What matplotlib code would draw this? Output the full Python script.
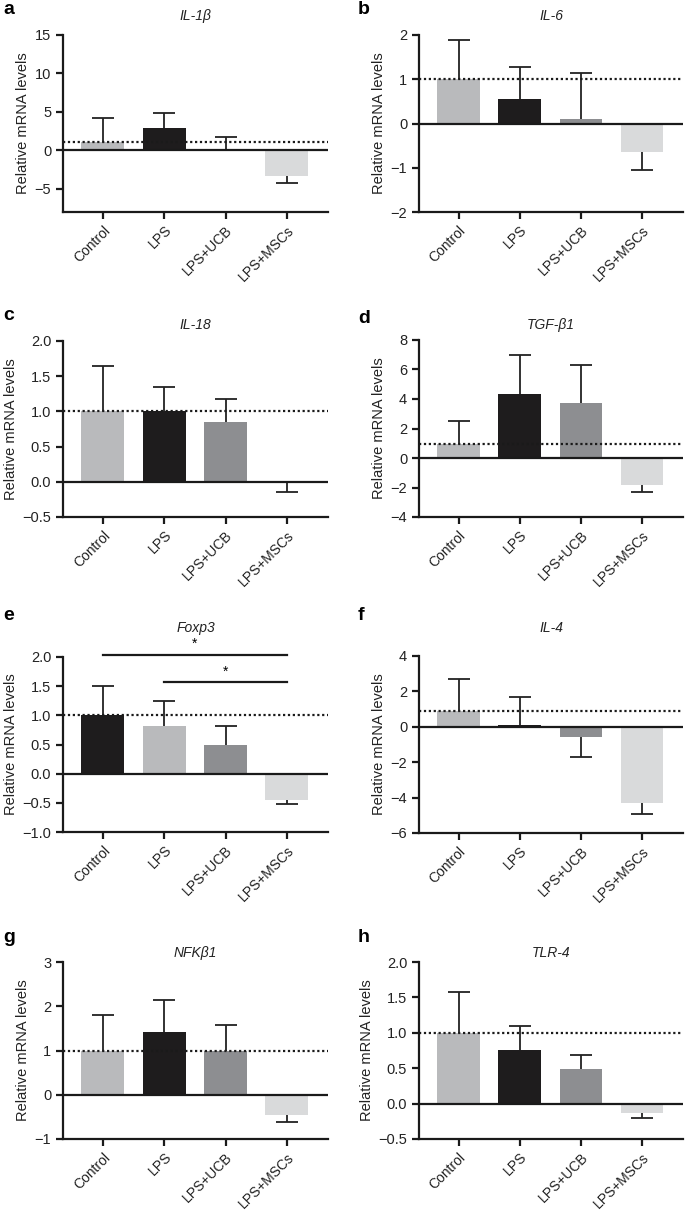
import numpy as np
import matplotlib
matplotlib.use('Agg')
import matplotlib.pyplot as plt

plt.rcParams['font.family'] = ['Liberation Sans', 'DejaVu Sans']

#### Data ####
groups = ['Control', 'LPS', 'LPS+UCB', 'LPS+MSCs']
genes = ['IL-1β', 'IL-6', 'IL-18', 'TGF-β1', 'Foxp3', 'IL-4', 'NFKβ1', 'TLR-4']
letters = ['a', 'b', 'c', 'd', 'e', 'f', 'g', 'h']

il1b_mean = [1.05, 2.93, 0.08, -3.30]
il1b_err = [3.15, 1.94, 1.69, 0.96]
il6_mean = [1.00, 0.55, 0.10, -0.65]
il6_err = [0.88, 0.73, 1.03, 0.40]
il18_mean = [1.00, 1.00, 0.85, -0.01]
il18_err = [0.64, 0.34, 0.32, 0.14]
tgfb1_mean = [0.98, 4.34, 3.71, -1.81]
tgfb1_err = [1.52, 2.66, 2.62, 0.52]
foxp3_mean = [1.00, 0.81, 0.49, -0.45]
foxp3_err = [0.50, 0.44, 0.33, 0.07]
il4_mean = [0.92, 0.12, -0.57, -4.29]
il4_err = [1.80, 1.56, 1.14, 0.66]
nfkb1_mean = [1.00, 1.41, 0.98, -0.46]
nfkb1_err = [0.81, 0.72, 0.59, 0.15]
tlr4_mean = [1.00, 0.76, 0.49, -0.13]
tlr4_err = [0.57, 0.33, 0.20, 0.08]

means = [il1b_mean, il6_mean, il18_mean, tgfb1_mean, foxp3_mean, il4_mean, nfkb1_mean, tlr4_mean]
errs = [il1b_err, il6_err, il18_err, tgfb1_err, foxp3_err, il4_err, nfkb1_err, tlr4_err]

# dotted reference line level for each panel
ref_level = [1.1, 1.0, 1.0, 0.95, 1.0, 0.9, 1.0, 1.0]

# y axis ranges and ticks
ylims = [(-8, 15), (-2, 2), (-0.5, 2.0), (-4, 8), (-1.0, 2.0), (-6, 4), (-1, 3), (-0.5, 2.0)]
yticks = [[-5, 0, 5, 10, 15], [-2, -1, 0, 1, 2], [-0.5, 0, 0.5, 1, 1.5, 2],
          [-4, -2, 0, 2, 4, 6, 8], [-1, -0.5, 0, 0.5, 1, 1.5, 2], [-6, -4, -2, 0, 2, 4],
          [-1, 0, 1, 2, 3], [-0.5, 0, 0.5, 1, 1.5, 2]]
ytick_fmt = ['{:.0f}', '{:.0f}', '{:.1f}', '{:.0f}', '{:.1f}', '{:.0f}', '{:.0f}', '{:.1f}']

# significance bars in panel e (from group, to group, height)
sig_bars = [(0, 3, 2.04), (1, 3, 1.57)]

#### Colours ####
light = '#b9babc'
black = '#1e1c1d'
dark = '#8d8e91'
pale = '#d9dadb'
colors_normal = [light, black, dark, pale]
colors_e = [black, light, dark, pale]

#### Layout in pixels (left, right, top, bottom) ####
W, H = 685, 1210
boxes = [(63, 328, 35, 212), (419, 683, 35, 212),
         (63, 328, 341, 517), (419, 683, 340, 517),
         (63, 328, 657, 832), (419, 683, 656, 833),
         (63, 328, 962, 1139), (419, 683, 962, 1139)]
title_gap = [19, 19, 16, 15, 29, 28, 9, 9]
letter_pos = [(3, 10), (358, 10), (3, 315), (358, 318), (3, 615), (358, 615), (3, 938), (358, 938)]

fig = plt.figure(figsize=(W / 100, H / 100), dpi=100)

x = np.arange(len(groups))

for i in range(8):
    l, r, t, b = boxes[i]
    ax = fig.add_axes([l / W, 1 - b / H, (r - l) / W, (b - t) / H])

    m = np.array(means[i])
    e = np.array(errs[i])
    cols = colors_e if i == 4 else colors_normal

    # error bars only away from zero: stem + cap at the tip
    tip = m + np.where(m < 0, -e, e)
    ax.vlines(x, m, tip, color='#222222', lw=1.3, zorder=1)
    ax.plot(x, tip, linestyle='none', marker='_', markersize=16.5,
            markeredgewidth=1.3, color='#222222', zorder=1)
    ax.bar(x, m, width=0.7, color=cols, zorder=2)

    ax.axhline(0, color='#1a1a1a', lw=1.6, zorder=3)
    ax.axhline(ref_level[i], color='#1a1a1a', lw=1.6, linestyle=(0, (1, 1.2)), zorder=3)

    ax.set_xlim(-0.65, 3.67)
    ax.set_ylim(ylims[i])
    ax.set_yticks(yticks[i])
    ax.set_yticklabels([ytick_fmt[i].format(v).replace('-', '\u2212') for v in yticks[i]])
    ax.set_xticks(x)
    ax.set_xticklabels(groups, rotation=45, ha='right', rotation_mode='anchor')

    for s in ['top', 'right']:
        ax.spines[s].set_visible(False)
    for s in ['left', 'bottom']:
        ax.spines[s].set_linewidth(1.6)
        ax.spines[s].set_color('#1a1a1a')
    ax.tick_params(axis='both', width=1.6, length=5, color='#1a1a1a', labelcolor='#222222')
    ax.tick_params(axis='y', labelsize=10.5)
    ax.tick_params(axis='x', labelsize=10, pad=3)

    ax.set_ylabel('Relative mRNA levels', fontsize=10.5, color='#222222', labelpad=3)

    h = b - t
    ax.text(0.5, 1 + title_gap[i] / h, genes[i], transform=ax.transAxes,
            ha='center', va='center', fontsize=10, style='italic', color='#222222')

    lx, ly = letter_pos[i]
    fig.text(lx / W, 1 - ly / H, letters[i], fontsize=14, fontweight='bold', va='center', ha='left')

    # significance markers for Foxp3
    if i == 4:
        for g0, g1, yy in sig_bars:
            ax.plot([x[g0], x[g1]], [yy, yy], color='#1a1a1a', lw=1.6, clip_on=False)
            ax.text((x[g0] + x[g1]) / 2, yy + 0.06, '*', ha='center', va='bottom', fontsize=10, clip_on=False)

plt.savefig('out.png', dpi=100)
